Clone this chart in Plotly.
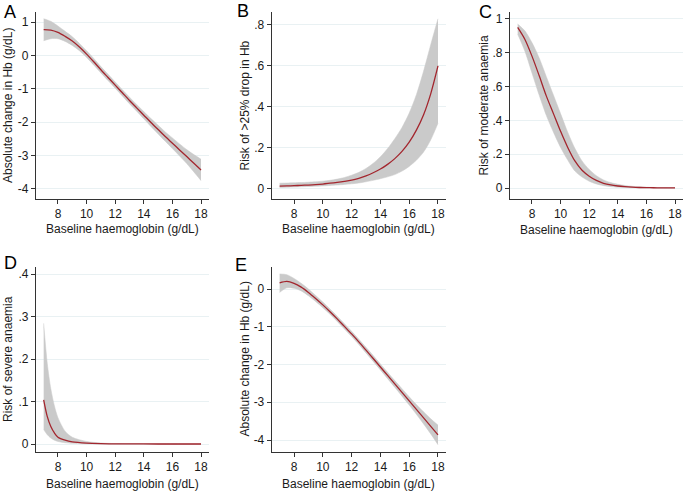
import plotly.graph_objects as go

W, H = 685, 491

# ---------------- data ----------------
hb = [7, 7.5, 8, 8.5, 9, 9.5, 10, 10.5, 11, 11.5, 12, 12.5, 13, 13.5, 14,
      14.5, 15, 15.5, 16, 16.5, 17, 17.5, 18]

a_mean = [0.77, 0.76, 0.69, 0.57, 0.43, 0.25, 0.04, -0.19, -0.43, -0.66, -0.89, -1.12,
          -1.35, -1.57, -1.79, -2.01, -2.22, -2.43, -2.63, -2.83, -3.03, -3.23, -3.43]
a_upper = [1.10, 1.02, 0.88, 0.72, 0.56, 0.36, 0.14, -0.09, -0.335, -0.565, -0.795, -1.025,
           -1.25, -1.47, -1.68, -1.89, -2.09, -2.29, -2.47, -2.65, -2.82, -2.97, -3.11]
a_lower = [0.44, 0.50, 0.50, 0.42, 0.30, 0.14, -0.06, -0.29, -0.525, -0.755, -0.985, -1.215,
           -1.45, -1.67, -1.90, -2.13, -2.35, -2.57, -2.79, -3.01, -3.24, -3.49, -3.75]

b_mean = [0.014, 0.015, 0.016, 0.0175, 0.019, 0.021, 0.024, 0.028, 0.032, 0.037, 0.043, 0.052,
          0.064, 0.079, 0.097, 0.12, 0.148, 0.183, 0.228, 0.287, 0.362, 0.465, 0.60]
b_upper = [0.028, 0.029, 0.030, 0.031, 0.033, 0.035, 0.038, 0.042, 0.048, 0.056, 0.067, 0.081,
           0.100, 0.125, 0.157, 0.197, 0.245, 0.30, 0.37, 0.46, 0.575, 0.705, 0.83]
b_lower = [0.007, 0.008, 0.009, 0.0105, 0.012, 0.0135, 0.015, 0.017, 0.019, 0.022, 0.025, 0.029,
           0.035, 0.042, 0.050, 0.059, 0.070, 0.087, 0.110, 0.140, 0.180, 0.240, 0.32]

c_mean = [0.95, 0.88, 0.78, 0.665, 0.545, 0.44, 0.335, 0.24, 0.16, 0.105, 0.07, 0.045,
          0.028, 0.018, 0.012, 0.008, 0.005, 0.003, 0.002, 0.0015, 0.001, 0.0007, 0.0005]
c_upper = [0.97, 0.93, 0.86, 0.77, 0.66, 0.55, 0.44, 0.33, 0.235, 0.16, 0.11, 0.073,
           0.048, 0.032, 0.022, 0.015, 0.010, 0.007, 0.005, 0.0035, 0.0025, 0.0017, 0.0012]
c_lower = [0.91, 0.81, 0.68, 0.55, 0.43, 0.33, 0.24, 0.165, 0.10, 0.065, 0.04, 0.024,
           0.014, 0.008, 0.005, 0.003, 0.002, 0.0012, 0.0008, 0.0005, 0.0003, 0.0002, 0.0001]

hb_d = [7, 7.25, 7.5, 7.75, 8, 8.5, 9, 10, 11, 12, 14, 16, 18]
d_mean = [0.104, 0.065, 0.041, 0.026, 0.016, 0.009, 0.005, 0.002, 0.0008, 0.0003, 0.0001, 0.0, 0.0]
d_upper = [0.284, 0.19, 0.13, 0.09, 0.062, 0.030, 0.016, 0.006, 0.0025, 0.001, 0.0002, 0.0001, 0.0]
d_lower = [0.034, 0.022, 0.014, 0.009, 0.006, 0.003, 0.0015, 0.0005, 0.0002, 0.0001, 0.0, 0.0, 0.0]

e_mean = [0.16, 0.20, 0.15, 0.05, -0.09, -0.25, -0.42, -0.60, -0.79, -0.99, -1.19, -1.40,
          -1.62, -1.84, -2.065, -2.29, -2.515, -2.74, -2.965, -3.19, -3.415, -3.64, -3.865]
e_upper = [0.40, 0.38, 0.28, 0.15, 0.00, -0.17, -0.345, -0.53, -0.72, -0.92, -1.12, -1.33,
           -1.545, -1.762, -1.985, -2.205, -2.425, -2.64, -2.855, -3.06, -3.255, -3.44, -3.605]
e_lower = [-0.09, 0.03, 0.02, -0.05, -0.18, -0.33, -0.495, -0.67, -0.86, -1.06, -1.26, -1.47,
           -1.695, -1.918, -2.145, -2.375, -2.605, -2.84, -3.075, -3.32, -3.575, -3.84, -4.125]

x_ticks = [8, 10, 12, 14, 16, 18]
a_yticks = [1, 0, -1, -2, -3, -4]
a_ytext = ["1", "0", "-1", "-2", "-3", "-4"]
b_yticks = [0, 0.2, 0.4, 0.6, 0.8]
b_ytext = ["0", ".2", ".4", ".6", ".8"]
c_yticks = [0, 0.2, 0.4, 0.6, 0.8, 1]
c_ytext = ["0", ".2", ".4", ".6", ".8", "1"]
d_yticks = [0, 0.1, 0.2, 0.3, 0.4]
d_ytext = ["0", ".1", ".2", ".3", ".4"]
e_yticks = [0, -1, -2, -3, -4]
e_ytext = ["0", "-1", "-2", "-3", "-4"]

x_title = "Baseline haemoglobin (g/dL)"
y_titles = ["Absolute change in Hb (g/dL)", "Risk of >25% drop in Hb",
            "Risk of moderate anaemia", "Risk of severe anaemia",
            "Absolute change in Hb (g/dL)"]
letters = ["A", "B", "C", "D", "E"]

# ---------------- styling / layout ----------------
FONT = "Liberation Sans, Arial, sans-serif"
TXT = "#1a1a1a"
BAND = "#CACACA"
LINE = "#A3262E"
GRID = "#E9F1F3"
AX = "#333333"

panels = [
    dict(x=hb, m=a_mean, u=a_upper, l=a_lower, tv=a_yticks, tt=a_ytext,
         xpx=(35.8, 208.9), ypx=(12, 199), yr=[-4.30, 1.30]),
    dict(x=hb, m=b_mean, u=b_upper, l=b_lower, tv=b_yticks, tt=b_ytext,
         xpx=(271.7, 445.9), ypx=(12, 199), yr=[-0.049, 0.863]),
    dict(x=hb, m=c_mean, u=c_upper, l=c_lower, tv=c_yticks, tt=c_ytext,
         xpx=(509.8, 682.9), ypx=(12, 199), yr=[-0.065, 1.041]),
    dict(x=hb_d, m=d_mean, u=d_upper, l=d_lower, tv=d_yticks, tt=d_ytext,
         xpx=(35.8, 208.9), ypx=(267, 452), yr=[-0.0188, 0.4165]),
    dict(x=hb, m=e_mean, u=e_upper, l=e_lower, tv=e_yticks, tt=e_ytext,
         xpx=(271.7, 445.9), ypx=(267, 452), yr=[-4.318, 0.583]),
]

ytitle_x = [7.5, 244, 483, 7.5, 244]
xtitle_y = [229, 229, 230, 484, 484]
letter_pos = [(2, 0), (235, -1), (477, 0), (2, 251), (233, 253)]

fig = go.Figure()
layout = dict(
    width=W, height=H, margin=dict(l=0, r=0, t=0, b=0),
    paper_bgcolor="white", plot_bgcolor="white", showlegend=False,
    font=dict(family=FONT, size=12, color=TXT),
)
annotations = []

for i, p in enumerate(panels):
    k = "" if i == 0 else str(i + 1)
    xa, ya = "x" + k, "y" + k
    fig.add_trace(go.Scatter(x=p["x"], y=p["l"], mode="lines", xaxis=xa, yaxis=ya,
                             line=dict(color=BAND, width=0.5, shape="spline", smoothing=0.8),
                             hoverinfo="skip"))
    fig.add_trace(go.Scatter(x=p["x"], y=p["u"], mode="lines", xaxis=xa, yaxis=ya,
                             fill="tonexty", fillcolor=BAND,
                             line=dict(color=BAND, width=0.5, shape="spline", smoothing=0.8),
                             hoverinfo="skip"))
    fig.add_trace(go.Scatter(x=p["x"], y=p["m"], mode="lines", xaxis=xa, yaxis=ya,
                             line=dict(color=LINE, width=1.3, shape="spline", smoothing=0.8)))
    x0, x1 = p["xpx"]
    y0, y1 = p["ypx"]
    layout["xaxis" + k] = dict(
        domain=[x0 / W, x1 / W], range=[6.45, 18.55], anchor=ya,
        tickvals=x_ticks, ticktext=[str(v) for v in x_ticks],
        showline=True, linecolor=AX, linewidth=1, ticks="outside", ticklen=4,
        tickcolor=AX, showgrid=False, zeroline=False,
        tickfont=dict(size=12, color=TXT, family=FONT),
    )
    layout["yaxis" + k] = dict(
        domain=[1 - y1 / H, 1 - y0 / H], range=p["yr"], anchor=xa,
        tickvals=p["tv"], ticktext=p["tt"],
        showline=True, linecolor=AX, linewidth=1, ticks="outside", ticklen=4,
        tickcolor=AX, showgrid=True, gridcolor=GRID, gridwidth=1, zeroline=False,
        tickfont=dict(size=12, color=TXT, family=FONT),
    )
    annotations.append(dict(text=x_title, xref="paper", yref="paper",
                            x=(x0 + x1) / 2 / W, y=1 - xtitle_y[i] / H,
                            xanchor="center", yanchor="middle", showarrow=False,
                            font=dict(size=12, color=TXT, family=FONT)))
    annotations.append(dict(text=y_titles[i], xref="paper", yref="paper",
                            x=ytitle_x[i] / W, y=1 - (y0 + y1) / 2 / H,
                            xanchor="center", yanchor="middle", textangle=-90,
                            showarrow=False,
                            font=dict(size=12, color=TXT, family=FONT)))
    lx, ly = letter_pos[i]
    annotations.append(dict(text=letters[i], xref="paper", yref="paper",
                            x=lx / W, y=1 - ly / H, xanchor="left", yanchor="top",
                            showarrow=False,
                            font=dict(size=18, color="#000000", family=FONT)))

layout["annotations"] = annotations
fig.update_layout(**layout)
fig.write_html("out.html", config={"displayModeBar": False},
               post_script="document.body.style.margin='0';document.body.style.overflow='hidden';")
